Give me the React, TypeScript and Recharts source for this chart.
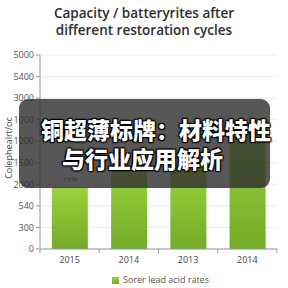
import React from 'react';
import { BarChart, Bar, XAxis, YAxis, CartesianGrid, Legend, LabelList } from 'recharts';

const categories = ['2015', '2014', '2013', '2014'];
const capacityLevels = [2.88, 3.68, 3.77, 5.53];
const barLabels = ['19%', '', '', ''];
const yTickLabels = ['0', '300', '540', '2000', '1500', '1000', '1000', '3000', '5400', '5000'];
const yTicks = [0, 1, 2, 3, 4, 5, 6, 7, 8, 9];
const seriesName = 'Sorer lead acid rates';

const data = categories.map((c, i) => ({ cat: c, value: capacityLevels[i], lbl: barLabels[i] }));

const font = '"Open Sans", "Noto Sans", sans-serif';

const XTick = (props: any) => {
  const { x, y, payload, index } = props;
  const half = 29.6;
  return (
    <g>
      <line x1={x + half} x2={x + half} y1={y - 8} y2={y - 4} stroke="#999" />
      {index === 0 ? <line x1={x - half} x2={x - half} y1={y - 8} y2={y - 4} stroke="#999" /> : null}
      <text x={x} y={y + 6} textAnchor="middle" fontSize={9} fill="#444" fontFamily={font}>{payload.value}</text>
    </g>
  );
};

const cjkStyle: React.CSSProperties = {
  position: 'absolute', whiteSpace: 'nowrap', fontFamily: '"Noto Sans CJK SC", sans-serif', fontWeight: 900,
  fontSize: 23, lineHeight: '28px', color: '#fff',
  textShadow: '0 0 2px #000, 1px 1px 1px #000, -1px -1px 1px #000, 1px -1px 1px #000, -1px 1px 1px #000',
};

export default function App() {
  return (
    <div style={{ position: 'fixed', left: 0, top: 0, width: 288, height: 288, background: '#fff', overflow: 'hidden' }}>
      <div style={{ position: 'absolute', top: 5, left: 0, width: 288, textAlign: 'center', fontFamily: font, fontSize: 13.5, lineHeight: '17px', color: '#2e2e2e', fontWeight: 600 }}>
        Capacity / batteryrites after<br />different restoration cycles
      </div>
      <BarChart width={288} height={288} data={data} margin={{ top: 55, right: 11, bottom: 0, left: 0 }} barCategoryGap="20%">
        <defs>
          <linearGradient id="gg" x1="0" y1="0" x2="0" y2="1">
            <stop offset="0%" stopColor="#9ad33c" />
            <stop offset="100%" stopColor="#73ab2b" />
          </linearGradient>
        </defs>
        <CartesianGrid vertical={false} stroke="#e9e9e9" />
        <XAxis dataKey="cat" height={26} tickLine={false} axisLine={{ stroke: '#999' }} tick={<XTick />} interval={0} />
        <YAxis type="number" domain={[0, 9]} ticks={yTicks} width={40} interval={0}
          tickFormatter={(v: number) => yTickLabels[v]}
          tick={{ fontSize: 9, fill: '#555', fontFamily: font }} tickSize={4} tickLine={{ stroke: '#999' }} axisLine={{ stroke: '#999' }} />
        <Legend verticalAlign="bottom" iconType="square" iconSize={7}
          wrapperStyle={{ fontSize: 9, fontFamily: font, color: '#555', left: 27, bottom: 2 }}
          formatter={(v: string) => <span style={{ color: '#555' }}>{v}</span>} />
        <Bar dataKey="value" name={seriesName} fill="url(#gg)" isAnimationActive={false} legendType="square">
          <LabelList dataKey="lbl" position="top" offset={5} fontSize={8} fill="#666" fontFamily={font} />
        </Bar>
      </BarChart>
      <div style={{ position: 'absolute', left: 0, top: 148, width: 16, height: 0 }}>
        <div style={{ position: 'absolute', left: 8, top: 0, transform: 'translate(-50%,-50%) rotate(-90deg)', whiteSpace: 'nowrap', fontSize: 9, fontFamily: font, color: '#444' }}>Colephealrt/oc</div>
      </div>
      <div style={{ position: 'absolute', left: 19, top: 99, width: 251, height: 89, borderRadius: 9, background: 'rgba(45,45,45,0.8)' }} />
      <div style={{ ...cjkStyle, left: 41, top: 115 }}>铜超薄标牌：材料特性</div>
      <div style={{ ...cjkStyle, left: 62, top: 144 }}>与行业应用解析</div>
    </div>
  );
}
